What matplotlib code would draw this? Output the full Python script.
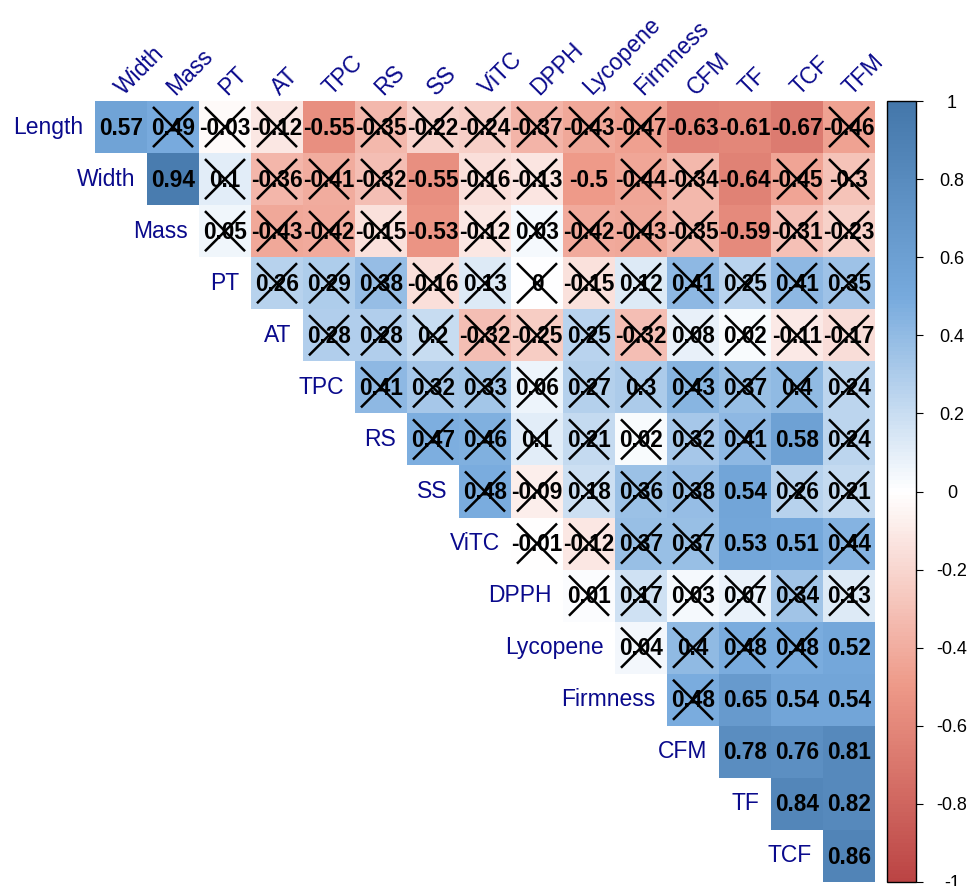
import numpy as np
import matplotlib
matplotlib.use("Agg")
import matplotlib.pyplot as plt
from matplotlib.colors import LinearSegmentedColormap, Normalize
from matplotlib.cm import ScalarMappable

plt.rcParams['font.family'] = ['Liberation Sans', 'DejaVu Sans']

variables = ["Length", "Width", "Mass", "PT", "AT", "TPC", "RS", "SS", "ViTC",
             "DPPH", "Lycopene", "Firmness", "CFM", "TF", "TCF", "TFM"]

# Upper-triangle correlations, each row starting just right of the diagonal
r_length = [0.57, 0.49, -0.03, -0.12, -0.55, -0.35, -0.22, -0.24, -0.37, -0.43, -0.47, -0.63, -0.61, -0.67, -0.46]
r_width = [0.94, 0.1, -0.36, -0.41, -0.32, -0.55, -0.16, -0.13, -0.5, -0.44, -0.34, -0.64, -0.45, -0.3]
r_mass = [0.05, -0.43, -0.42, -0.15, -0.53, -0.12, 0.03, -0.42, -0.43, -0.35, -0.59, -0.31, -0.23]
r_pt = [0.26, 0.29, 0.38, -0.16, 0.13, 0, -0.15, 0.12, 0.41, 0.25, 0.41, 0.35]
r_at = [0.28, 0.28, 0.2, -0.32, -0.25, 0.25, -0.32, 0.08, 0.02, -0.11, -0.17]
r_tpc = [0.41, 0.32, 0.33, 0.06, 0.27, 0.3, 0.43, 0.37, 0.4, 0.24]
r_rs = [0.47, 0.46, 0.1, 0.21, 0.02, 0.32, 0.41, 0.58, 0.24]
r_ss = [0.48, -0.09, 0.18, 0.36, 0.38, 0.54, 0.26, 0.21]
r_vitc = [-0.01, -0.12, 0.37, 0.37, 0.53, 0.51, 0.44]
r_dpph = [0.01, 0.17, 0.03, 0.07, 0.34, 0.13]
r_lycopene = [0.04, 0.4, 0.48, 0.48, 0.52]
r_firmness = [0.48, 0.65, 0.54, 0.54]
r_cfm = [0.78, 0.76, 0.81]
r_tf = [0.84, 0.82]
r_tcf = [0.86]

upper_rows = [r_length, r_width, r_mass, r_pt, r_at, r_tpc, r_rs, r_ss, r_vitc,
              r_dpph, r_lycopene, r_firmness, r_cfm, r_tf, r_tcf]

# coefficients below this magnitude are marked as not significant
sig_threshold = 0.5

row_labels = variables[:-1]
col_labels = variables[1:]
n = len(row_labels)

mat = np.full((n, n), np.nan)
for i, vals in enumerate(upper_rows):
    for k, v in enumerate(vals):
        mat[i, i + k] = v

cmap = LinearSegmentedColormap.from_list(
    "corr", ["#BB4444", "#EE9988", "#FFFFFF", "#77AADD", "#4477AA"], N=200)
norm = Normalize(vmin=-1, vmax=1)

W, H = 970, 886
fig = plt.figure(figsize=(W / 100, H / 100), dpi=100)

x0, x1 = 95, 875
y0, y1 = 101, 882
ax = fig.add_axes([x0 / W, (H - y1) / H, (x1 - x0) / W, (y1 - y0) / H])
ax.set_xlim(0, n)
ax.set_ylim(n, 0)
ax.axis("off")

masked = np.ma.masked_invalid(mat)
ax.pcolormesh(np.arange(n + 1), np.arange(n + 1), masked, cmap=cmap, norm=norm,
              edgecolors="none", antialiased=False)

inset = 0.115
for i in range(n):
    for j in range(i, n):
        v = mat[i, j]
        ax.text(j + 0.5, i + 0.52, f"{v:g}", ha="center", va="center",
                fontsize=16.3, fontweight="bold", color="black", zorder=3)
        if abs(v) < sig_threshold:
            ax.plot([j + inset, j + 1 - inset], [i + inset, i + 1 - inset],
                    color="black", lw=1.8, zorder=4, solid_capstyle="butt")
            ax.plot([j + inset, j + 1 - inset], [i + 1 - inset, i + inset],
                    color="black", lw=1.8, zorder=4, solid_capstyle="butt")

label_color = "#0A0A8C"
for i, lab in enumerate(row_labels):
    ax.text(i - 0.22, i + 0.5, lab, ha="right", va="center", fontsize=16.5,
            color=label_color, clip_on=False)

for j, lab in enumerate(col_labels):
    ax.text(j + 0.55, -0.1, lab, ha="left", va="baseline", rotation=45,
            rotation_mode="anchor", fontsize=16.5, color=label_color, clip_on=False)

# colour legend
cax = fig.add_axes([887 / W, (H - y1) / H, 29 / W, (y1 - y0) / H])
cb = fig.colorbar(ScalarMappable(norm=norm, cmap=cmap), cax=cax)
ticks = np.round(np.arange(-1, 1.01, 0.2), 1) + 0.0
ticks[np.isclose(ticks, 0)] = 0.0
cb.set_ticks(ticks)
cb.set_ticklabels([f"{abs(t):g}" if t == 0 else f"{t:g}" for t in ticks])
cb.outline.set_linewidth(1.0)
cb.outline.set_edgecolor("black")
cax.tick_params(axis="y", length=5, width=0.8, pad=21, labelsize=13)
for t in cax.get_yticklabels():
    t.set_horizontalalignment("center")

fig.savefig("out.png", dpi=100)
